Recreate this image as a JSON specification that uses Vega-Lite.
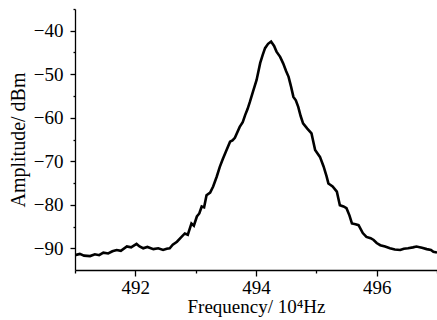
{
  "$schema": "https://vega.github.io/schema/vega-lite/v6.json",
  "autosize": {"type": "none"},
  "padding": {"left": 75, "top": 9, "right": 0, "bottom": 50},
  "width": 362,
  "height": 261,
  "background": "white",
  "config": {
    "view": {"stroke": null},
    "axis": {"grid": false, "domainColor": "black", "domainWidth": 1.3, "tickColor": "black", "tickWidth": 1.3,
      "labelColor": "black", "titleFontWeight": "normal", "titleColor": "black",
      "labelFont": "Liberation Serif", "labelFontSize": 19, "titleFont": "Liberation Serif", "titleFontSize": 20}
  },
  "data": {"values": [
    {"f":491.00,"a":-91.6},{"f":491.08,"a":-91.3},{"f":491.15,"a":-91.7},{"f":491.25,"a":-91.8},
    {"f":491.33,"a":-91.4},{"f":491.40,"a":-91.6},{"f":491.47,"a":-91.0},{"f":491.55,"a":-91.2},
    {"f":491.62,"a":-90.7},{"f":491.69,"a":-90.4},{"f":491.76,"a":-90.6},{"f":491.86,"a":-89.6},
    {"f":491.93,"a":-89.8},{"f":492.02,"a":-89.0},{"f":492.07,"a":-89.6},{"f":492.13,"a":-90.0},
    {"f":492.20,"a":-89.7},{"f":492.30,"a":-90.2},{"f":492.38,"a":-90.0},{"f":492.46,"a":-90.4},
    {"f":492.52,"a":-90.1},{"f":492.57,"a":-90.0},{"f":492.62,"a":-89.2},{"f":492.69,"a":-88.5},
    {"f":492.75,"a":-87.6},{"f":492.82,"a":-86.6},{"f":492.87,"a":-86.9},{"f":492.93,"a":-84.3},
    {"f":492.97,"a":-84.8},{"f":493.02,"a":-82.7},{"f":493.06,"a":-82.0},{"f":493.10,"a":-80.4},
    {"f":493.14,"a":-80.6},{"f":493.18,"a":-77.8},{"f":493.24,"a":-77.2},{"f":493.29,"a":-75.8},
    {"f":493.35,"a":-73.5},{"f":493.40,"a":-71.3},{"f":493.45,"a":-69.5},{"f":493.50,"a":-67.8},
    {"f":493.57,"a":-65.5},{"f":493.61,"a":-65.2},{"f":493.65,"a":-64.6},{"f":493.73,"a":-62.1},
    {"f":493.78,"a":-61.0},{"f":493.82,"a":-59.4},{"f":493.86,"a":-58.0},{"f":493.90,"a":-56.3},
    {"f":493.95,"a":-54.0},{"f":494.01,"a":-51.3},{"f":494.07,"a":-47.4},{"f":494.11,"a":-45.6},
    {"f":494.15,"a":-44.0},{"f":494.20,"a":-43.0},{"f":494.25,"a":-42.5},{"f":494.30,"a":-43.5},
    {"f":494.34,"a":-44.8},{"f":494.40,"a":-46.0},{"f":494.45,"a":-47.5},{"f":494.50,"a":-49.3},
    {"f":494.54,"a":-50.6},{"f":494.58,"a":-52.8},{"f":494.62,"a":-55.2},{"f":494.66,"a":-56.0},
    {"f":494.70,"a":-57.5},{"f":494.74,"a":-59.6},{"f":494.78,"a":-61.3},{"f":494.85,"a":-62.5},
    {"f":494.92,"a":-63.6},{"f":494.95,"a":-65.5},{"f":494.98,"a":-67.4},{"f":495.02,"a":-68.2},
    {"f":495.06,"a":-69.0},{"f":495.12,"a":-71.2},{"f":495.17,"a":-73.5},{"f":495.20,"a":-75.1},
    {"f":495.27,"a":-75.8},{"f":495.34,"a":-77.0},{"f":495.39,"a":-80.1},{"f":495.45,"a":-80.4},
    {"f":495.50,"a":-80.8},{"f":495.55,"a":-82.5},{"f":495.59,"a":-84.3},{"f":495.65,"a":-84.5},
    {"f":495.70,"a":-84.7},{"f":495.77,"a":-86.5},{"f":495.83,"a":-87.4},{"f":495.90,"a":-87.7},
    {"f":495.95,"a":-88.1},{"f":496.00,"a":-88.8},{"f":496.06,"a":-89.3},{"f":496.14,"a":-89.6},
    {"f":496.22,"a":-90.0},{"f":496.30,"a":-90.3},{"f":496.39,"a":-90.4},{"f":496.45,"a":-90.1},
    {"f":496.52,"a":-90.0},{"f":496.60,"a":-89.8},{"f":496.66,"a":-89.6},{"f":496.75,"a":-89.9},
    {"f":496.83,"a":-90.2},{"f":496.90,"a":-90.4},{"f":496.94,"a":-90.8},{"f":497.00,"a":-91.0}
  ]},
  "mark": {"type": "line", "color": "black", "strokeWidth": 2.6, "clip": true},
  "encoding": {
    "x": {"field": "f", "type": "quantitative",
      "scale": {"domain": [491, 497], "nice": false, "zero": false},
      "axis": {"title": "Frequency/ 10⁴Hz", "titleFontSize": 19, "values": [491, 492, 493, 494, 495, 496, 497],
        "labelExpr": "datum.value % 2 === 0 ? datum.label : ''",
        "tickSize": {"condition": {"test": "datum.value % 2 === 0", "value": 6}, "value": 3},
        "labelPadding": 2, "titlePadding": 0}},
    "y": {"field": "a", "type": "quantitative",
      "scale": {"domain": [-95, -35], "nice": false, "zero": false},
      "axis": {"title": "Amplitude/ dBm", "values": [-90, -85, -80, -75, -70, -65, -60, -55, -50, -45, -40, -35],
        "labelExpr": "datum.value % 10 === 0 ? datum.label : ''",
        "tickSize": {"condition": {"test": "datum.value % 10 === 0", "value": 5}, "value": 2},
        "labelPadding": 7, "titlePadding": 5}}
  }
}
